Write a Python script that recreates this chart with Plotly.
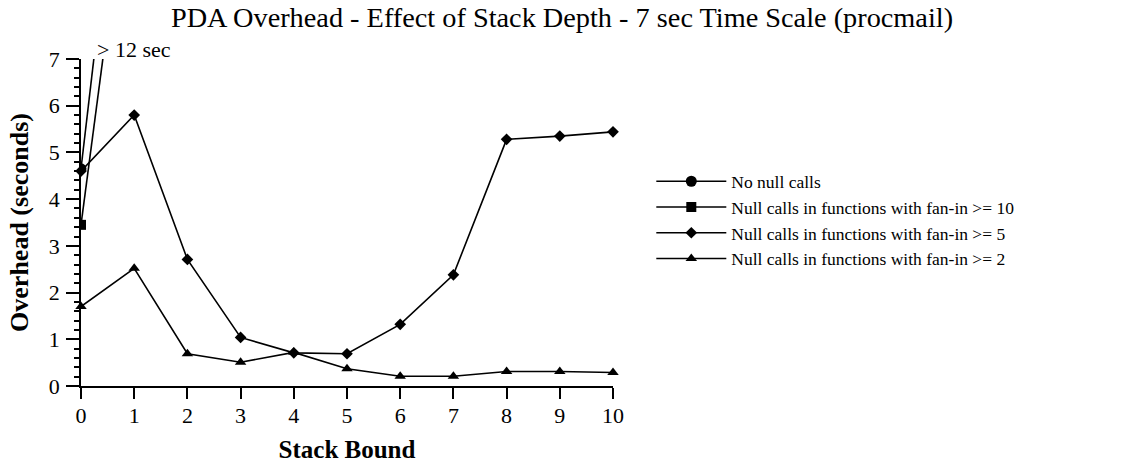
import plotly.graph_objects as go

stack_bound = [0, 1, 2, 3, 4, 5, 6, 7, 8, 9, 10]

# Series that leave the chart (> 12 sec) right after x=0
no_null_x = [0, 1]
no_null = [4.65, 14.4]
fanin10_x = [0, 1]
fanin10 = [3.45, 12.1]

fanin5 = [4.60, 5.80, 2.71, 1.04, 0.71, 0.69, 1.32, 2.38, 5.28, 5.35, 5.44]
fanin2 = [1.70, 2.52, 0.69, 0.51, 0.72, 0.37, 0.21, 0.21, 0.31, 0.31, 0.29]

names = [
    "No null calls",
    "Null calls in functions with fan-in >= 10",
    "Null calls in functions with fan-in >= 5",
    "Null calls in functions with fan-in >= 2",
]

FONT = "Liberation Serif, Times New Roman, serif"
LW = 1.6

fig = go.Figure()
fig.add_trace(go.Scatter(x=no_null_x, y=no_null, name=names[0], mode="lines+markers",
                         line=dict(color="black", width=LW),
                         marker=dict(symbol="circle", size=11, color="black"),
                         cliponaxis=True))
fig.add_trace(go.Scatter(x=fanin10_x, y=fanin10, name=names[1], mode="lines+markers",
                         line=dict(color="black", width=LW),
                         marker=dict(symbol="square", size=10, color="black"),
                         cliponaxis=True))
fig.add_trace(go.Scatter(x=stack_bound, y=fanin5, name=names[2], mode="lines+markers",
                         line=dict(color="black", width=LW),
                         marker=dict(symbol="diamond", size=9, color="black"),
                         cliponaxis=False))
fig.add_trace(go.Scatter(x=stack_bound, y=fanin2, name=names[3], mode="lines+markers",
                         line=dict(color="black", width=LW),
                         marker=dict(symbol="triangle-up", size=10, color="black"),
                         cliponaxis=False))

fig.add_annotation(x=0.026, y=1.03, xref="paper", yref="paper", text="> 12 sec", showarrow=False,
                   xanchor="left", yanchor="middle", font=dict(family=FONT, size=22, color="black"))

fig.update_layout(
    width=1124, height=465,
    margin=dict(l=81, r=511, t=59, b=79, autoexpand=False),
    paper_bgcolor="white", plot_bgcolor="white",
    font=dict(family=FONT, color="black"),
    title=dict(text="PDA Overhead - Effect of Stack Depth - 7 sec Time Scale (procmail)",
               x=0.5, xanchor="center", y=0.985, yanchor="top",
               font=dict(family=FONT, size=28.3, color="black")),
    showlegend=True,
    legend=dict(x=1.072, y=0.508, xanchor="left", yanchor="middle",
                font=dict(family=FONT, size=17.5, color="black"),
                bgcolor="rgba(0,0,0,0)", itemwidth=70, tracegroupgap=0),
)

fig.update_xaxes(range=[0, 10], tickvals=stack_bound, ticktext=[str(v) for v in stack_bound],
                 showline=True, linecolor="black", linewidth=LW, ticks="outside",
                 ticklen=11, tickwidth=LW, tickcolor="black", showgrid=False, zeroline=False,
                 automargin=False, ticklabelstandoff=-2,
                 tickfont=dict(family=FONT, size=22, color="black"),
                 title=dict(text="<b>Stack Bound</b>", font=dict(family=FONT, size=25, color="black"),
                            standoff=13))
fig.update_yaxes(range=[0, 7], dtick=1, tick0=0,
                 showline=True, linecolor="black", linewidth=LW, ticks="outside",
                 ticklen=13, tickwidth=LW, tickcolor="black", showgrid=False, zeroline=False,
                 automargin=False, ticklabelstandoff=2,
                 tickfont=dict(family=FONT, size=22, color="black"),
                 minor=dict(dtick=0.2, ticks="outside", ticklen=5, tickwidth=LW, tickcolor="black",
                            showgrid=False),
                 title=dict(text="<b>Overhead (seconds)</b>", font=dict(family=FONT, size=26, color="black"),
                            standoff=13))

fig.write_html("out.html", config={"displayModeBar": False},
               post_script="document.body.style.margin='0';")
